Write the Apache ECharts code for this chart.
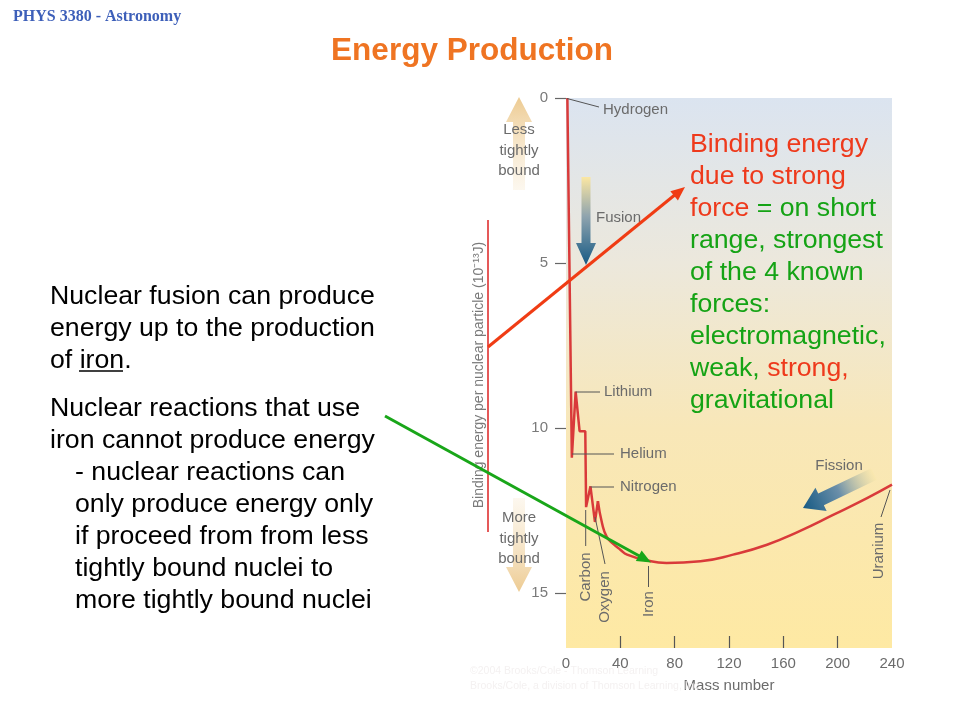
<!DOCTYPE html>
<html>
<head>
<meta charset="utf-8">
<script src="https://cdn.jsdelivr.net/npm/echarts@6/dist/echarts.min.js"></script>
<style>
html,body{margin:0;padding:0;background:#fff;}
#c{width:960px;height:720px;}
</style>
</head>
<body>
<div id="c"></div>
<script>
// ---- data (mass number, binding energy per nuclear particle, 10^-13 J) ----
var lightNucleiA = [1, 4.3, 7.1, 10, 14.2, 14.8, 18, 21.3, 23.5];
var lightNucleiE = [0, 10.9, 8.9, 10.1, 10.1, 12.4, 11.77, 12.85, 12.22];
var heavyNucleiA = [23.5, 26.5, 30, 35, 40, 45, 60, 74, 99, 123, 148, 172, 197, 222, 240];
var heavyNucleiE = [12.22, 12.88, 13.3, 13.52, 13.69, 13.84, 14.02, 14.09, 14.04, 13.84, 13.54, 13.13, 12.63, 12.12, 11.72];
var xTickValues = [0, 40, 80, 120, 160, 200, 240];
var xTickMarks = [40, 80, 120, 160, 200];
var yTickValues = [0, 5, 10, 15];

function pairs(a, b) { return a.map(function (v, i) { return [v, b[i]]; }); }

var FONT = '"Liberation Sans", Arial, sans-serif';
var GREY = '#6b6b6b';
var RED = '#ee3a1c';
var GREEN = '#15a315';

function arrowPts(x1, y1, x2, y2, sh, hl, hh) {
  var dx = x2 - x1, dy = y2 - y1, L = Math.sqrt(dx * dx + dy * dy);
  var ux = dx / L, uy = dy / L, nx = -uy, ny = ux;
  var bx = x2 - ux * hl, by = y2 - uy * hl;
  return [
    [x1 + nx * sh, y1 + ny * sh],
    [bx + nx * sh, by + ny * sh],
    [bx + nx * hh, by + ny * hh],
    [x2, y2],
    [bx - nx * hh, by - ny * hh],
    [bx - nx * sh, by - ny * sh],
    [x1 - nx * sh, y1 - ny * sh]
  ];
}
function headPts(x1, y1, x2, y2, hl, hh) {
  var dx = x2 - x1, dy = y2 - y1, L = Math.sqrt(dx * dx + dy * dy);
  var ux = dx / L, uy = dy / L, nx = -uy, ny = ux;
  var bx = x2 - ux * hl, by = y2 - uy * hl;
  return [[bx + nx * hh, by + ny * hh], [x2, y2], [bx - nx * hh, by - ny * hh]];
}
function grad(x1, y1, x2, y2, stops) {
  return new echarts.graphic.LinearGradient(x1, y1, x2, y2, stops, true);
}
function txt(x, y, s, opt) {
  var st = { x: x, y: y, text: s, font: (opt.weight || 'normal') + ' ' + (opt.size || 15) + 'px ' + (opt.family || FONT),
    fill: opt.color || GREY, align: opt.align || 'left', verticalAlign: opt.va || 'middle' };
  if (opt.lineHeight) st.lineHeight = opt.lineHeight;
  return { type: 'text', x: 0, y: 0, rotation: opt.rot || 0, originX: x, originY: y, style: st, z: opt.z || 10, silent: true };
}
function seg(pts, color, w, z) {
  return { type: 'polyline', shape: { points: pts }, style: { stroke: color, lineWidth: w, fill: null }, z: z || 10, silent: true };
}

var chart = echarts.init(document.getElementById('c'), null, { renderer: 'canvas' });

var graphics = [
  // header & title
  txt(13, 17, 'PHYS 3380 - Astronomy', { size: 16, weight: 'bold', family: '"Liberation Serif", "Times New Roman", serif', color: '#3d5fb9' }),
  txt(472, 51, 'Energy Production', { size: 31.5, weight: 'bold', color: '#ef7422', align: 'center' }),

  // left text
  txt(50, 281, 'Nuclear fusion can produce\nenergy up to the production\nof iron.', { size: 26.7, color: '#000', va: 'top', lineHeight: 32 }),
  seg([[79, 371], [123, 371]], '#000', 1.3),
  txt(50, 393, 'Nuclear reactions that use\niron cannot produce energy', { size: 26.7, color: '#000', va: 'top', lineHeight: 32 }),
  txt(75, 457, '- nuclear reactions can\nonly produce energy only\nif proceed from from less\ntightly bound nuclei to\nmore tightly bound nuclei', { size: 26.7, color: '#000', va: 'top', lineHeight: 32 }),

  // right text
  { type: 'text', x: 690, y: 129, z: 12, silent: true, style: { x: 0, y: 0, verticalAlign: 'top',
      text: '{r|Binding energy}\n{r|due to strong}\n{r|force}{g| = on short}\n{g|range, strongest}\n{g|of the 4 known}\n{g|forces:}\n{g|electromagnetic,}\n{g|weak, }{r|strong,}\n{g|gravitational}',
      rich: { r: { fill: RED, font: '26.7px ' + FONT, lineHeight: 32 }, g: { fill: GREEN, font: '26.7px ' + FONT, lineHeight: 32 } } } },

  // y axis name and red bracket line
  txt(479, 375, 'Binding energy per nuclear particle (10\u207B\u00B9\u00B3J)', { size: 14, color: '#7a7a7a', align: 'center', rot: Math.PI / 2 }),
  seg([[488, 220], [488, 532]], '#d22', 1.5, 9),

  // less / more tightly bound arrows
  { type: 'polygon', z: 5, silent: true, shape: { points: arrowPts(519, 190, 519, 97, 6, 25, 13) },
    style: { fill: grad(0, 97, 0, 190, [{ offset: 0, color: 'rgba(236,200,140,0.95)' }, { offset: 1, color: 'rgba(245,225,190,0.25)' }]) } },
  txt(519, 120, 'Less\ntightly\nbound', { size: 15, align: 'center', va: 'top', lineHeight: 20.5 }),
  { type: 'polygon', z: 5, silent: true, shape: { points: arrowPts(519, 498, 519, 592, 6, 25, 13) },
    style: { fill: grad(0, 498, 0, 592, [{ offset: 0, color: 'rgba(245,225,190,0.25)' }, { offset: 1, color: 'rgba(236,200,140,0.95)' }]) } },
  txt(519, 508, 'More\ntightly\nbound', { size: 15, align: 'center', va: 'top', lineHeight: 20.5 }),

  // fusion arrow
  { type: 'polygon', z: 6, silent: true, shape: { points: arrowPts(586, 177, 586, 265, 4.5, 22, 10) },
    style: { fill: grad(0, 177, 0, 265, [{ offset: 0, color: '#fbe7a3' }, { offset: 0.45, color: '#8ea3ae' }, { offset: 1, color: '#165a84' }]) } },
  txt(596, 218, 'Fusion', { size: 15 }),

  // fission arrow
  { type: 'polygon', z: 6, silent: true, shape: { points: arrowPts(874, 474, 803, 508, 6.5, 20, 13) },
    style: { fill: grad(874, 474, 803, 508, [{ offset: 0, color: 'rgba(250,232,170,0.5)' }, { offset: 0.5, color: '#6b8fa9' }, { offset: 1, color: '#165a84' }]) } },
  txt(839, 466, 'Fission', { size: 15, align: 'center' }),

  // element labels
  seg([[567, 98.5], [599, 107]], '#555', 1),
  txt(603, 110, 'Hydrogen', { size: 15 }),
  seg([[575.5, 392], [600, 392]], '#555', 1),
  txt(604, 392, 'Lithium', { size: 15 }),
  seg([[572, 454], [614, 454]], '#555', 1),
  txt(620, 454, 'Helium', { size: 15 }),
  seg([[590.5, 487], [614, 487]], '#555', 1),
  txt(620, 487, 'Nitrogen', { size: 15 }),
  seg([[585.7, 510], [585.7, 546]], '#555', 1),
  txt(585.5, 577, 'Carbon', { size: 15, align: 'center', rot: Math.PI / 2 }),
  seg([[595, 517], [605, 564]], '#555', 1),
  txt(604.5, 597, 'Oxygen', { size: 15, align: 'center', rot: Math.PI / 2 }),
  seg([[648.5, 566], [648.5, 587]], '#555', 1),
  txt(648.5, 604, 'Iron', { size: 15, align: 'center', rot: Math.PI / 2 }),
  seg([[890, 490], [881, 517]], '#555', 1),
  txt(879, 551, 'Uranium', { size: 15, align: 'center', rot: Math.PI / 2 }),

  // faint copyright
  txt(470, 664, '\u00A92004 Brooks/Cole - Thomson Learning\nBrooks/Cole, a division of Thomson Learning, Inc.', { size: 10.5, color: '#f4f1f1', va: 'top', lineHeight: 15, z: 1 }),

  // red pointer arrow
  seg([[488, 347], [679, 191.5]], '#f03c14', 3, 20),
  { type: 'polygon', z: 20, silent: true, shape: { points: headPts(488, 347, 685, 187, 14, 6) }, style: { fill: '#f03c14' } },
  // green pointer arrow
  seg([[385, 416], [643, 558]], '#19a619', 3, 20),
  { type: 'polygon', z: 20, silent: true, shape: { points: headPts(385, 416, 651, 562.5, 14, 6) }, style: { fill: '#19a619' } }
];

var option = {
  backgroundColor: '#ffffff',
  animation: false,
  grid: {
    left: 566, right: 68, top: 98, bottom: 72, show: true, borderWidth: 0,
    backgroundColor: new echarts.graphic.LinearGradient(0, 0, 0, 1, [
      { offset: 0, color: '#dbe4f0' },
      { offset: 0.3, color: '#ece8dc' },
      { offset: 0.6, color: '#f8e7b8' },
      { offset: 1, color: '#fee9a3' }
    ])
  },
  xAxis: {
    type: 'value', min: 0, max: 240, interval: 40, position: 'bottom',
    axisLine: { show: false, onZero: false },
    splitLine: { show: false },
    axisTick: { show: true, inside: true, length: 12, customValues: xTickMarks, lineStyle: { color: '#555', width: 1.2 } },
    axisLabel: { customValues: xTickValues, margin: 8, fontSize: 15, color: '#6b6b6b', fontFamily: FONT },
    name: 'Mass number', nameLocation: 'middle', nameGap: 30,
    nameTextStyle: { fontSize: 15, color: '#6b6b6b', fontFamily: FONT }
  },
  yAxis: {
    type: 'value', inverse: true, min: 0, max: 16.67, interval: 5,
    axisLine: { show: false, onZero: false },
    splitLine: { show: false },
    axisTick: { show: true, inside: false, length: 11, customValues: yTickValues, lineStyle: { color: '#666', width: 1.2 } },
    axisLabel: { customValues: yTickValues, margin: 18, fontSize: 15, color: '#7a7a7a', fontFamily: FONT }
  },
  series: [
    { type: 'line', data: pairs(lightNucleiA, lightNucleiE), showSymbol: false, symbol: 'none', smooth: false,
      lineStyle: { color: '#d93a3a', width: 2.5 }, z: 4 },
    { type: 'line', data: pairs(heavyNucleiA, heavyNucleiE), showSymbol: false, symbol: 'none', smooth: 0.5,
      lineStyle: { color: '#d93a3a', width: 2.5 }, z: 4 }
  ],
  graphic: { elements: graphics }
};
chart.setOption(option);
</script>
</body>
</html>
